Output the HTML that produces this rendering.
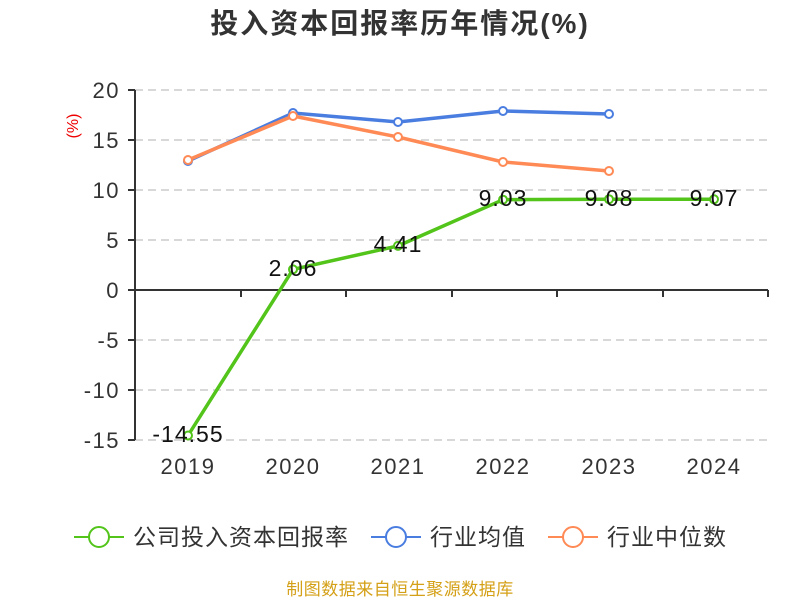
<!DOCTYPE html><html><head><meta charset="utf-8"><style>body{margin:0;background:#fff}svg{display:block}text{font-family:"Liberation Sans","Noto Sans CJK SC",sans-serif}</style></head><body>
<svg width="800" height="600" xmlns="http://www.w3.org/2000/svg">
<text x="400" y="33" text-anchor="middle" font-size="28" font-weight="bold" fill="#333" letter-spacing="2">投入资本回报率历年情况(%)</text>
<g stroke="#ccc" stroke-dasharray="8,5" stroke-width="1.5">
<line x1="135" x2="768" y1="90" y2="90"/><line x1="135" x2="768" y1="140" y2="140"/><line x1="135" x2="768" y1="190" y2="190"/><line x1="135" x2="768" y1="240" y2="240"/><line x1="135" x2="768" y1="340" y2="340"/><line x1="135" x2="768" y1="390" y2="390"/><line x1="135" x2="768" y1="440" y2="440"/></g>
<g stroke="#333" stroke-width="2"><line x1="135" x2="135" y1="90" y2="440"/><line x1="135" x2="768" y1="290" y2="290"/>
<line x1="128" x2="135" y1="90" y2="90"/><line x1="128" x2="135" y1="140" y2="140"/><line x1="128" x2="135" y1="190" y2="190"/><line x1="128" x2="135" y1="240" y2="240"/><line x1="128" x2="135" y1="290" y2="290"/><line x1="128" x2="135" y1="340" y2="340"/><line x1="128" x2="135" y1="390" y2="390"/><line x1="128" x2="135" y1="440" y2="440"/>
<line x1="241" x2="241" y1="290" y2="297"/><line x1="346" x2="346" y1="290" y2="297"/><line x1="452" x2="452" y1="290" y2="297"/><line x1="557" x2="557" y1="290" y2="297"/><line x1="663" x2="663" y1="290" y2="297"/><line x1="768" x2="768" y1="290" y2="297"/></g>
<g font-size="22" fill="#333" text-anchor="end" letter-spacing="1.5"><text x="120" y="98">20</text><text x="120" y="148">15</text><text x="120" y="198">10</text><text x="120" y="248">5</text><text x="120" y="298">0</text><text x="120" y="348">-5</text><text x="120" y="398">-10</text><text x="120" y="448">-15</text></g>
<g font-size="22" fill="#333" text-anchor="middle" letter-spacing="1.5"><text x="188" y="474">2019</text><text x="293" y="474">2020</text><text x="398" y="474">2021</text><text x="503" y="474">2022</text><text x="609" y="474">2023</text><text x="714" y="474">2024</text></g>
<text x="78" y="126" font-size="16" fill="#e00" text-anchor="middle" transform="rotate(-90 78 126)">(%)</text>
<polyline fill="none" stroke="#4a7de0" stroke-width="3.5" points="188,161 293,113 398,122 503,111 609,114"/>
<polyline fill="none" stroke="#ff8a55" stroke-width="3.5" points="188,160 293,116 398,137 503,162 609,171"/>
<polyline fill="none" stroke="#52c41a" stroke-width="3.5" points="188,435.5 293,269.4 398,245.9 503,199.7 609,199.2 714,199.3"/>
<g fill="#fff" stroke-width="2"><g stroke="#4a7de0"><circle cx="188" cy="161" r="4"/><circle cx="293" cy="113" r="4"/><circle cx="398" cy="122" r="4"/><circle cx="503" cy="111" r="4"/><circle cx="609" cy="114" r="4"/></g>
<g stroke="#ff8a55"><circle cx="188" cy="160" r="4"/><circle cx="293" cy="116" r="4"/><circle cx="398" cy="137" r="4"/><circle cx="503" cy="162" r="4"/><circle cx="609" cy="171" r="4"/></g>
<g stroke="#52c41a"><circle cx="188" cy="435.5" r="4"/><circle cx="293" cy="269.4" r="4"/><circle cx="398" cy="245.9" r="4"/><circle cx="503" cy="199.7" r="4"/><circle cx="609" cy="199.2" r="4"/><circle cx="714" cy="199.3" r="4"/></g></g>
<g font-size="23" fill="#111" text-anchor="middle" letter-spacing="1"><text x="188" y="442">-14.55</text><text x="293" y="276">2.06</text><text x="398" y="252">4.41</text><text x="503" y="206">9.03</text><text x="609" y="206">9.08</text><text x="714" y="206">9.07</text></g>
<g stroke-width="2" fill="#fff"><line x1="74" x2="124" y1="537" y2="537" stroke="#52c41a"/><circle cx="99" cy="537" r="10" stroke="#52c41a"/>
<line x1="371" x2="421" y1="537" y2="537" stroke="#4a7de0"/><circle cx="396" cy="537" r="10" stroke="#4a7de0"/>
<line x1="548" x2="598" y1="537" y2="537" stroke="#ff8a55"/><circle cx="573" cy="537" r="10" stroke="#ff8a55"/></g>
<g font-size="23" fill="#333" letter-spacing="1"><text x="133" y="545">公司投入资本回报率</text><text x="430" y="545">行业均值</text><text x="607" y="545">行业中位数</text></g>
<text x="400" y="595" font-size="17" fill="#d4a017" text-anchor="middle" letter-spacing="0.5">制图数据来自恒生聚源数据库</text>
</svg></body></html>
